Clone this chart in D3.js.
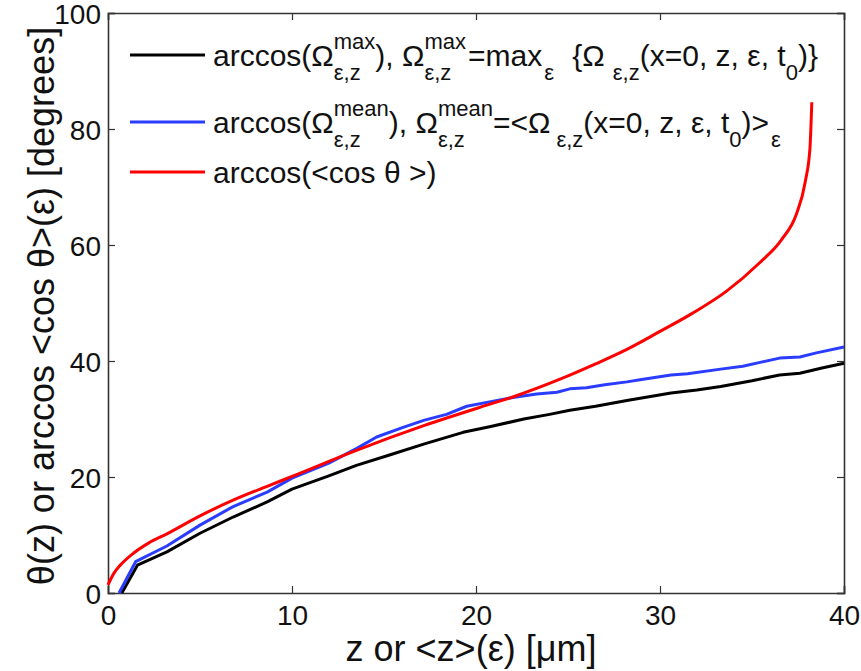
<!DOCTYPE html>
<html><head><meta charset="utf-8">
<script src="https://cdn.jsdelivr.net/npm/d3@7/dist/d3.min.js"></script>
<style>
html,body{margin:0;padding:0;background:#fff;}
svg text{font-family:"Liberation Sans",Arial,Helvetica,sans-serif;fill:#111;}
</style></head>
<body>
<svg id="chart" width="861" height="671"></svg>
<script>
// ---- data ----
const xTicks = [0, 10, 20, 30, 40];
const yTicks = [0, 20, 40, 60, 80, 100];

// black: arccos(Omega max)
const maxZ = [0.75,1.6,3.2,5,6.8,8.65,10,12,13.5,15.3,17.2,19.3,20.8,22.6,24,25.1,26.5,28.2,30.6,32,33.3,35,36.5,37.6,38.8,40];
const maxTheta = [0,4.8,7.1,10.3,13.1,15.7,17.9,20.2,22.0,23.8,25.7,27.7,28.7,30.0,30.8,31.5,32.2,33.2,34.5,35.0,35.6,36.6,37.6,37.9,38.8,39.6];

// blue: arccos(Omega mean)
const meanZ = [0.6,1.5,3.2,5,6.8,8.65,10,12,13.5,14.6,16,17.2,18.4,19.5,20.8,22,23.3,24.4,25.1,26,27,28.2,29,30.6,31.5,33.3,34.5,35.5,36.5,37.6,38.5,40];
const meanTheta = [0,5.4,8.1,11.7,14.9,17.4,19.8,22.4,24.9,26.9,28.5,29.8,30.8,32.2,33.0,33.7,34.3,34.6,35.2,35.4,35.9,36.4,36.8,37.6,37.8,38.6,39.1,39.8,40.5,40.7,41.4,42.4];

// red: arccos(<cos theta>)
const cosZ = [0,0.3,0.7,1.4,2.2,3.2,5,6.8,8.65,10,13.5,17.2,20.8,22,24.6,26.5,28.2,30,31.8,33.6,35.4,36.6,37.4,37.9,38.15,38.25];
const cosTheta = [1.4,3.3,4.9,6.9,8.6,10.2,13.3,16.0,18.4,20.1,24.6,28.9,32.6,33.8,36.9,39.5,42.0,45.1,48.3,52.0,56.9,60.9,65.2,71.0,76.7,84.6];

const seriesColors = ["#000000", "#2a3cff", "#ff0000"];

// ---- layout ----
const svg = d3.select("#chart");
const L = 108, R = 844, T = 13, B = 593;
const x = d3.scaleLinear().domain([0, 40]).range([L, R]);
const y = d3.scaleLinear().domain([0, 100]).range([B, T]);
const FS = 28;

const axisColor = "#333";
const gB = svg.append("g").attr("transform", `translate(0,${B})`)
  .call(d3.axisBottom(x).tickValues(xTicks).tickSize(-7).tickPadding(12).tickFormat(d3.format("d")));
const gT = svg.append("g").attr("transform", `translate(0,${T})`)
  .call(d3.axisTop(x).tickValues(xTicks).tickSize(-7).tickFormat(""));
const gL = svg.append("g").attr("transform", `translate(${L},0)`)
  .call(d3.axisLeft(y).tickValues(yTicks).tickSize(-7).tickPadding(7).tickFormat(d3.format("d")));
const gR = svg.append("g").attr("transform", `translate(${R},0)`)
  .call(d3.axisRight(y).tickValues(yTicks).tickSize(-7).tickFormat(""));
[gB, gT, gL, gR].forEach(g => {
  g.select(".domain").attr("stroke", axisColor).attr("stroke-width", 1.6);
  g.selectAll(".tick line").attr("stroke", axisColor).attr("stroke-width", 1.2);
  g.selectAll(".tick text").attr("font-size", FS).attr("fill", "#111")
    .attr("font-family", '"Liberation Sans",Arial,sans-serif');
});
gB.selectAll(".tick text").attr("dy", "0.71em");
gL.selectAll(".tick text").attr("dy", "0.36em");

// lines
const lineGen = d3.line().x(d => x(d[0])).y(d => y(d[1]));
const smoothGen = d3.line().x(d => x(d[0])).y(d => y(d[1])).curve(d3.curveMonotoneX);
const data = [
  d3.zip(maxZ, maxTheta),
  d3.zip(meanZ, meanTheta),
  d3.zip(cosZ, cosTheta)
];
const plot = svg.append("g");
data.forEach((pts, i) => {
  plot.append("path").datum(pts).attr("d", i === 2 ? smoothGen : lineGen)
    .attr("fill", "none").attr("stroke", seriesColors[i])
    .attr("stroke-width", 3).attr("stroke-linejoin", "round");
});

// axis labels
svg.append("text").attr("x", 471).attr("y", 661)
  .attr("text-anchor", "middle").attr("font-size", 36)
  .text("z or <z>(ε) [μm]");
svg.append("text").attr("transform", `translate(54,${306}) rotate(-90)`)
  .attr("text-anchor", "middle").attr("font-size", 36)
  .text("θ(z) or arccos <cos θ>(ε) [degrees]");

// legend with stacked super/subscripts
const LFS = 30, SS = 22;
function richText(g, x0, yBase, segs) {
  let cx = x0;
  segs.forEach(s => {
    if (s.n !== undefined) {
      const t = g.append("text").attr("x", cx).attr("y", yBase).attr("font-size", LFS)
        .style("white-space", "pre").text(s.n);
      cx += t.node().getComputedTextLength();
    } else {
      let w = 0;
      const gap = s.gap || 0;
      if (s.sup) {
        const t = g.append("text").attr("x", cx + gap).attr("y", yBase - 17).attr("font-size", SS)
          .style("white-space", "pre").text(s.sup);
        w = Math.max(w, t.node().getComputedTextLength());
      }
      if (s.sub) {
        const t = g.append("text").attr("x", cx + gap).attr("y", yBase + 14).attr("font-size", SS)
          .style("white-space", "pre").text(s.sub);
        w = Math.max(w, t.node().getComputedTextLength());
      }
      cx += w + gap + (s.post || 0);
    }
  });
}
const legendRows = [
  [{n:"arccos(Ω"},{sup:"max",sub:"ε,z"},{n:"), Ω"},{sup:"max",sub:"ε,z",post:2},{n:"=max"},{sub:"ε",gap:2,post:10},{n:" {Ω"},{sub:"ε,z",gap:8},{n:"(x=0, z, ε, t"},{sub:"0"},{n:")}"}],
  [{n:"arccos(Ω"},{sup:"mean",sub:"ε,z"},{n:"), Ω"},{sup:"mean",sub:"ε,z"},{n:"=<Ω"},{sub:"ε,z",gap:6},{n:"(x=0, z, ε, t"},{sub:"0"},{n:")>"},{sub:"ε",gap:2}],
  [{n:"arccos(<cos θ >)"}]
];
const legendY = [55, 122, 172];
const leg = svg.append("g");
legendRows.forEach((row, i) => {
  leg.append("line").attr("x1", 130).attr("x2", 205)
    .attr("y1", legendY[i]).attr("y2", legendY[i])
    .attr("stroke", seriesColors[i]).attr("stroke-width", 3);
  richText(leg, 213, legendY[i] + 11, row);
});
</script>
</body></html>
